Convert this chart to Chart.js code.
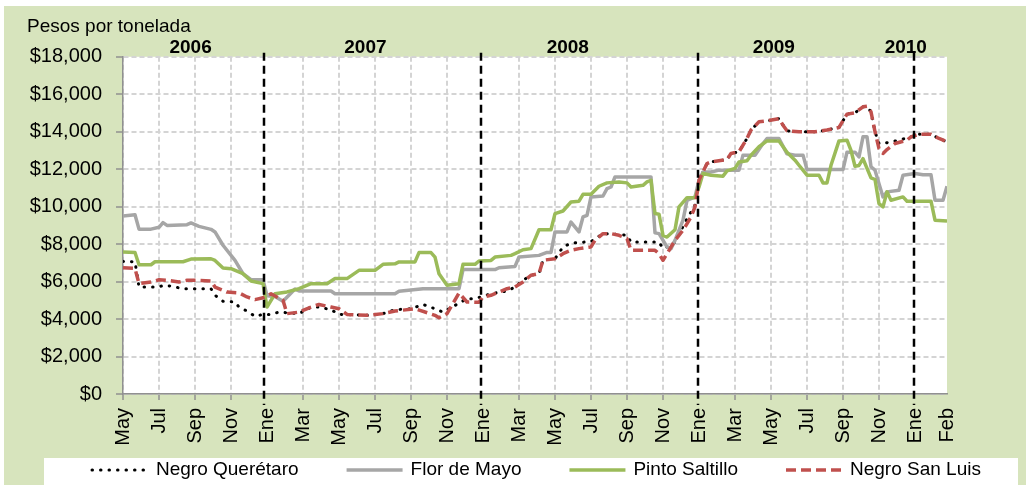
<!DOCTYPE html>
<html>
<head>
<meta charset="utf-8">
<script src="https://cdn.jsdelivr.net/npm/chart.js@4.4.1/dist/chart.umd.min.js"></script>
<style>
  html, body { margin: 0; padding: 0; background: #fff; }
  #wrap { width: 1026px; height: 485px; }
</style>
</head>
<body>
<div id="wrap"><canvas id="precios"></canvas></div>
<script>
// x = semana desde la primera semana de mayo 2006
const tickWeeks = [0, 9, 18, 27, 36, 45, 54, 63, 72, 81, 90, 99, 108, 117, 126, 135, 144, 153, 162, 171, 180, 189, 198, 206]
const tickLabels = ['May', 'Jul', 'Sep', 'Nov', 'Ene', 'Mar', 'May', 'Jul', 'Sep', 'Nov', 'Ene', 'Mar',
  'May', 'Jul', 'Sep', 'Nov', 'Ene', 'Mar', 'May', 'Jul', 'Sep', 'Nov', 'Ene', 'Feb']

const yearLabels = ['2006', '2007', '2008', '2009', '2010']
const yearWeeks = [16.9, 60.6, 111.2, 162.7, 195.7]
const yearStartWeeks = [35.3, 89.5, 143.8, 197.7]

const negroQueretaro = [[0,7080],[3,7050],[4,5710],[9,5710],[10,5800],[12,5760],[15,5620],[22,5620],[23,5270],
  [25,4950],[28,4910],[29,4640],[31,4430],[33,4140],[35,4250],[37,4250],[39,4370],[42,4320],[44,4290],[47,4640],
  [49,4640],[52,4500],[54,4250],[61,4200],[65,4290],[68,4500],[72,4550],[75,4780],[78,4550],[80,4370],[83,4730],
  [86,5090],[88,5090],[92,5350],[96,5500],[98,5710],[100,6070],[102,6340],[104,6420],[105,7140],[108,7220],
  [110,7850],[112,8050],[117,8140],[120,8560],[124,8520],[126,8470],[127,8110],[134,8110],[135,7760],[136,7850],
  [138,8110],[141,9360],[143,10070],[144,11410],[146,12300],[147,12390],[151,12510],[152,12840],[154,12930],
  [156,13640],[157,14090],[159,14530],[161,14580],[164,14700],[165,14350],[166,14050],[169,14000],[173,14000],
  [176,14090],[179,14230],[181,14940],[183,15010],[185,15330],[186,15360],[187,15060],[188,14000],[189,13370],
  [190,13370],[192,13460],[194,13550],[197,13730],[199,13870],[202,13860],[204,13640],[206,13460]]

const florDeMayo = [[0,9500],[3,9570],[4,8800],[7,8800],[9,8900],[10,9150],[11,9000],[16,9040],[17,9130],[19,8950],
  [22,8790],[23,8650],[25,7940],[28,7130],[30,6420],[32,6100],[35,6100],[36,5250],[38,5200],[40,4950],[43,5600],
  [44,5500],[52,5500],[53,5350],[68,5350],[69,5480],[75,5620],[84,5620],[85,6640],[93,6640],[94,6740],[98,6810],
  [99,7310],[104,7400],[106,7560],[107,7560],[108,8650],[111,8650],[112,9180],[114,8650],[115,9450],[116,9540],
  [117,10520],[120,10570],[121,10960],[122,11050],[123,11590],[132,11590],[133,8600],[134,8560],[136,7850],
  [137,7760],[138,8200],[140,9280],[141,10340],[143,10520],[144,11410],[145,11850],[147,11850],[149,11950],
  [154,11950],[155,12750],[158,12750],[160,13370],[161,13640],[164,13640],[166,12820],[168,12750],[170,12750],
  [171,11980],[180,11980],[181,12910],[183,12910],[184,12660],[185,13730],[186,13730],[187,12130],[188,11950],
  [189,11230],[190,10520],[191,10790],[194,10880],[195,11680],[198,11770],[200,11700],[202,11700],[203,10340],
  [205,10340],[206,11090]]

const pintoSaltillo = [[0,7580],[3,7550],[4,6900],[7,6900],[8,7060],[15,7060],[17,7200],[22,7220],[23,7130],
  [25,6720],[27,6690],[30,6420],[32,6030],[35,5890],[36,4640],[38,5350],[41,5450],[44,5620],[47,5890],[51,5890],
  [53,6160],[56,6160],[59,6600],[63,6600],[65,6920],[68,6950],[69,7050],[73,7050],[74,7550],[77,7550],[78,7310],
  [79,6420],[81,5800],[84,5890],[85,6920],[88,6920],[89,7100],[92,7130],[93,7310],[97,7400],[98,7490],[100,7700],
  [102,7760],[104,8770],[107,8770],[108,9630],[110,9770],[112,10250],[114,10290],[115,10660],[117,10660],
  [119,11090],[121,11270],[124,11320],[126,11270],[127,11050],[130,11140],[131,11320],[132,11410],[133,9630],
  [134,9600],[135,8470],[136,8380],[138,8770],[139,9990],[141,10480],[143,10480],[144,11050],[145,11770],
  [147,11680],[150,11630],[151,11910],[153,12040],[154,12390],[156,12450],[157,12750],[159,13200],[161,13510],
  [164,13510],[166,12910],[168,12480],[169,12210],[171,11680],[174,11680],[175,11270],[176,11270],[177,12210],
  [179,13510],[181,13550],[182,13000],[183,12160],[184,12200],[185,12560],[187,11540],[188,11450],[189,10160],
  [190,9990],[191,10790],[192,10340],[195,10520],[196,10290],[202,10290],[203,9280],[206,9240]]

const negroSanLuis = [[0,6740],[3,6700],[4,5890],[7,5980],[9,6100],[11,6070],[14,5980],[16,6070],[19,6070],
  [22,6030],[23,5710],[26,5440],[29,5400],[31,5180],[33,5040],[35,5140],[37,5350],[40,5000],[41,4290],[44,4370],
  [47,4640],[49,4780],[52,4640],[54,4550],[56,4250],[61,4200],[65,4290],[68,4430],[73,4550],[78,4200],[79,4070],
  [81,4290],[84,5390],[86,4910],[89,4900],[90,5180],[92,5270],[96,5620],[98,5710],[100,5980],[102,6340],
  [104,6420],[105,7140],[108,7220],[110,7490],[112,7670],[114,7760],[117,7850],[118,8200],[120,8560],[122,8560],
  [124,8470],[126,8290],[127,7670],[133,7670],[134,7490],[135,7140],[136,7490],[138,8200],[140,8740],[142,9450],
  [143,9990],[144,11410],[146,12300],[147,12390],[151,12510],[152,12840],[154,12930],[156,13640],[157,14090],
  [159,14530],[161,14580],[164,14700],[165,14350],[166,14050],[169,14000],[173,14000],[176,14090],[179,14230],
  [181,14940],[183,15010],[185,15330],[186,15360],[187,15060],[188,14000],[189,13100],[190,12840],[191,13050],
  [193,13370],[196,13550],[197,13730],[199,13870],[202,13860],[204,13640],[206,13460]]

const fontFamily = '"Liberation Sans", Arial, sans-serif'
Chart.defaults.font.family = fontFamily
Chart.defaults.color = '#000'

function toPoints(list) {
  return list.map(p => ({x: p[0], y: p[1]}))
}

// fondo verde, area de trazado blanca y caja blanca de la leyenda
const fondo = {
  id: 'fondo',
  beforeDraw(chart) {
    const {ctx, width, height, chartArea} = chart
    ctx.save()
    ctx.fillStyle = '#ffffff'
    ctx.fillRect(0, 0, width, height)
    ctx.fillStyle = '#d7e4bd'
    ctx.fillRect(4, 6, width - 4, height - 6)
    ctx.fillStyle = '#ffffff'
    ctx.fillRect(chartArea.left, chartArea.top, chartArea.right - chartArea.left, chartArea.bottom - chartArea.top)
    ctx.fillRect(44, height - 27, width - 52, 27)
    ctx.restore()
  }
}

// lineas de cambio de año y etiquetas de año
const anios = {
  id: 'anios',
  afterDatasetsDraw(chart) {
    const {ctx, chartArea, scales} = chart
    const x = scales.x
    ctx.save()
    ctx.strokeStyle = '#000'
    ctx.lineWidth = 2.5
    ctx.setLineDash([8, 5])
    yearStartWeeks.forEach(w => {
      const px = Math.round(x.getPixelForValue(w))
      ctx.beginPath()
      ctx.moveTo(px, chartArea.top - 4)
      ctx.lineTo(px, chartArea.bottom + 11)
      ctx.stroke()
    })
    ctx.setLineDash([])
    ctx.fillStyle = '#000'
    ctx.font = 'bold 19px ' + fontFamily
    ctx.textAlign = 'center'
    ctx.textBaseline = 'alphabetic'
    yearLabels.forEach((label, i) => {
      ctx.fillText(label, x.getPixelForValue(yearWeeks[i]), chartArea.top - 4)
    })
    ctx.restore()
  }
}

const leyenda = {
  id: 'leyenda',
  afterDraw(chart) {
    const {ctx, height} = chart
    const sets = chart.data.datasets
    const sample = 56
    const gap = 8
    const spacing = 48
    ctx.save()
    ctx.font = '19px ' + fontFamily
    ctx.textBaseline = 'middle'
    ctx.textAlign = 'left'
    let cx = 44 + spacing
    const cy = height - 15
    sets.forEach(d => {
      ctx.strokeStyle = d.borderColor
      ctx.lineWidth = d.borderWidth
      ctx.lineCap = d.borderCapStyle || 'butt'
      ctx.setLineDash(d.borderDash || [])
      ctx.beginPath()
      ctx.moveTo(cx, cy)
      ctx.lineTo(cx + sample, cy)
      ctx.stroke()
      ctx.fillStyle = '#000'
      ctx.fillText(d.label, cx + sample + gap, cy)
      cx += sample + gap + ctx.measureText(d.label).width + spacing
    })
    ctx.restore()
  }
}

const hiddenTick = c => tickLabels[c.index] === 'Ene' || c.index === tickWeeks.length - 1

new Chart(document.getElementById('precios'), {
  type: 'line',
  data: {
    datasets: [
      {label: 'Negro Querétaro', data: toPoints(negroQueretaro), borderColor: '#000000',
        borderWidth: 3, borderDash: [0.5, 8], borderCapStyle: 'round', order: 3},
      {label: 'Flor de Mayo', data: toPoints(florDeMayo), borderColor: '#a6a6a6',
        borderWidth: 3.5, order: 2},
      {label: 'Pinto Saltillo', data: toPoints(pintoSaltillo), borderColor: '#9bbb59',
        borderWidth: 3.5, order: 1},
      {label: 'Negro San Luis', data: toPoints(negroSanLuis), borderColor: '#c0504d',
        borderWidth: 3.5, borderDash: [10, 5], order: 0}
    ]
  },
  options: {
    responsive: true,
    maintainAspectRatio: false,
    animation: false,
    layout: {padding: {left: 27, right: 79, top: 6, bottom: 33}},
    elements: {
      point: {radius: 0},
      line: {tension: 0, borderJoinStyle: 'round', fill: false}
    },
    plugins: {
      legend: {display: false},
      tooltip: {enabled: false},
      title: {
        display: true,
        text: 'Pesos por tonelada',
        align: 'start',
        color: '#000',
        font: {size: 19, weight: 'normal'},
        padding: {top: 9, bottom: 19}
      }
    },
    scales: {
      x: {
        type: 'linear',
        min: 0,
        max: 206,
        afterBuildTicks: axis => { axis.ticks = tickWeeks.map(v => ({value: v})) },
        afterFit: axis => { axis.height = 58 },
        ticks: {
          autoSkip: false, maxRotation: 90, minRotation: 90, padding: 8,
          color: '#000', font: {size: 20},
          callback: (v, i) => tickLabels[i]
        },
        grid: {
          color: c => hiddenTick(c) ? 'rgba(0,0,0,0)' : '#d4d4d4',
          lineWidth: 2,
          tickLength: 6,
          tickColor: c => hiddenTick(c) ? 'rgba(0,0,0,0)' : '#909090',
          tickWidth: 1.5,
          tickBorderDash: []
        },
        border: {color: '#909090', width: 1.5, dash: [5, 3]}
      },
      y: {
        min: 0,
        max: 18000,
        afterFit: axis => { axis.width = 96 },
        ticks: {
          stepSize: 2000, padding: 14, color: '#000', font: {size: 20},
          callback: v => '$' + v.toLocaleString('en-US')
        },
        grid: {
          color: '#d4d4d4', lineWidth: 2, tickLength: 7,
          tickColor: '#909090', tickWidth: 1.5, tickBorderDash: []
        },
        border: {color: '#909090', width: 1.5, dash: [5, 3]}
      }
    }
  },
  plugins: [fondo, anios, leyenda]
})
</script>
</body>
</html>
